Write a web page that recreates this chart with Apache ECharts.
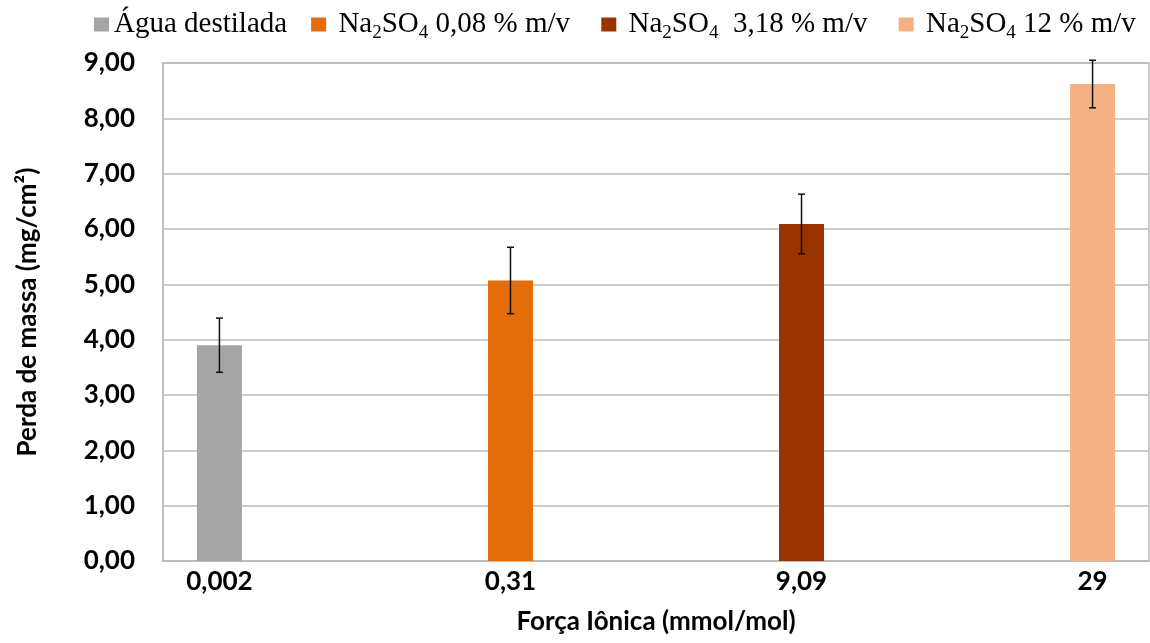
<!DOCTYPE html>
<html>
<head>
<meta charset="utf-8">
<script src="https://cdn.jsdelivr.net/npm/echarts@6/dist/echarts.min.js"></script>
<style>
html,body{margin:0;padding:0;background:#fff;}
#chart{width:1150px;height:643px;}
</style>
</head>
<body>
<div id="chart"></div>
<script>
// ---- data ----
const categories = ['0,002', '0,31', '9,09', '29'];
const seriesNames = ['Água destilada', 'Na2SO4 0,08 % m/v', 'Na2SO4 3,18 % m/v', 'Na2SO4 12 % m/v'];
const values = [3.90, 5.07, 6.09, 8.62];
const errors = [0.49, 0.60, 0.54, 0.43];
const yTicks = [0, 1, 2, 3, 4, 5, 6, 7, 8, 9];

// ---- style ----
const colors = ['#A5A5A5', '#E46C0A', '#993300', '#F4B183'];
const BAR_WIDTH = 45;
const BAR_GAP = -0.01;
const axisFont = 'Lato';
const legendFont = '"Liberation Serif", "Times New Roman", serif';

const legendRich = {
  n: { fontFamily: legendFont, fontSize: 29, color: '#000', lineHeight: 34, verticalAlign: 'middle' },
  s: { fontFamily: legendFont, fontSize: 19, color: '#000', lineHeight: 36, verticalAlign: 'bottom' }
};
function legendFormatter(name) {
  if (name.indexOf('Na2SO4') === 0) {
    const rest = name.slice(6);
    const restTxt = name === seriesNames[2] ? ' ' + rest : rest;
    return '{n| Na}{s|2}{n|SO}{s|4}{n|' + restTxt + ' }';
  }
  return '{n|' + name + '}';
}

const barSeries = seriesNames.map((nm, i) => ({
  name: nm,
  type: 'bar',
  barWidth: BAR_WIDTH,
  barGap: (BAR_GAP * 100) + '%',
  itemStyle: { color: colors[i] },
  data: categories.map((c, j) => (j === i ? values[i] : '-')),
  label: {
    show: true,
    position: 'bottom',
    distance: 8,
    formatter: p => categories[p.dataIndex],
    fontFamily: axisFont,
    fontWeight: 'bold',
    fontSize: 26,
    color: '#000'
  },
  z: 2
}));

const errData = values.map((v, i) => [i, v - errors[i], v + errors[i], i]);
const errSeries = {
  type: 'custom',
  name: 'err',
  z: 5,
  silent: true,
  data: errData,
  renderItem: function (params, api) {
    const cat = api.value(0);
    const slot = api.value(3);
    const n = seriesNames.length;
    const step = BAR_WIDTH * (1 + BAR_GAP);
    const off = (slot - (n - 1) / 2) * step;
    const lo = api.coord([cat, api.value(1)]);
    const hi = api.coord([cat, api.value(2)]);
    const x = lo[0] + off;
    const cap = 3.5;
    const st = { stroke: '#111', lineWidth: 1.5 };
    return {
      type: 'group',
      children: [
        { type: 'line', shape: { x1: x, y1: hi[1], x2: x, y2: lo[1] }, style: st },
        { type: 'line', shape: { x1: x - cap, y1: hi[1], x2: x + cap, y2: hi[1] }, style: st },
        { type: 'line', shape: { x1: x - cap, y1: lo[1], x2: x + cap, y2: lo[1] }, style: st }
      ]
    };
  }
};

const chart = echarts.init(document.getElementById('chart'), null, { renderer: 'canvas' });
chart.setOption({
  animation: false,
  backgroundColor: '#fff',
  legend: {
    data: seriesNames,
    left: 89,
    top: 5,
    itemWidth: 15,
    itemHeight: 14,
    itemGap: 24,
    icon: 'rect',
    formatter: legendFormatter,
    textStyle: { rich: legendRich, fontFamily: legendFont, fontSize: 29, color: '#000' }
  },
  grid: {
    left: 163, right: 1, top: 63, bottom: 82,
    show: true, borderColor: '#BBBBBB', borderWidth: 1.5, backgroundColor: 'transparent'
  },
  xAxis: {
    type: 'category',
    data: categories,
    name: 'Força Iônica (mmol/mol)',
    nameLocation: 'middle',
    nameGap: 48,
    nameTextStyle: { fontFamily: axisFont, fontWeight: 'bold', fontSize: 26, color: '#000' },
    axisLine: { show: true, lineStyle: { color: '#BBBBBB', width: 1.5 } },
    axisTick: { show: false },
    axisLabel: { show: false }
  },
  yAxis: {
    type: 'value',
    min: yTicks[0],
    max: yTicks[yTicks.length - 1],
    interval: 1,
    name: 'Perda de massa (mg/cm²)',
    nameLocation: 'middle',
    nameGap: 122,
    nameRotate: 90,
    nameTextStyle: { fontFamily: axisFont, fontWeight: 'bold', fontSize: 26, color: '#000' },
    axisLine: { show: true, lineStyle: { color: '#BBBBBB', width: 1.5 } },
    axisTick: { show: false },
    splitLine: { show: true, lineStyle: { color: '#BBBBBB', width: 1.5 } },
    axisLabel: {
      margin: 28,
      fontFamily: axisFont, fontWeight: 'bold', fontSize: 26, color: '#000',
      formatter: v => v.toFixed(2).replace('.', ',')
    }
  },
  series: barSeries.concat([errSeries])
});
</script>
</body>
</html>
